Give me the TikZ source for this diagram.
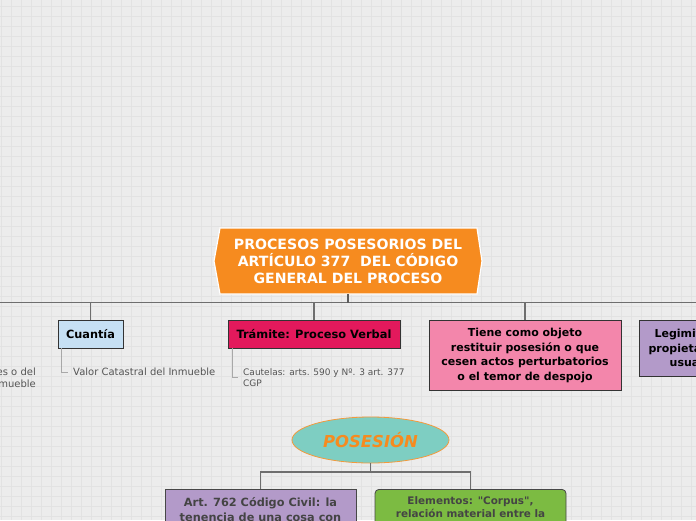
\documentclass[tikz,border=0pt]{standalone}
\usepackage{fontspec}
\setmainfont{DejaVu Sans}[Ligatures=TeXOff]
\usetikzlibrary{shapes.geometric}
\definecolor{bgc}{HTML}{ECECEC}
\definecolor{gridc}{HTML}{E2E2E2}
\definecolor{mainc}{HTML}{F68B1F}
\definecolor{cuantc}{HTML}{C6E0F4}
\definecolor{tramc}{HTML}{E3195C}
\definecolor{tienec}{HTML}{F386AB}
\definecolor{purpc}{HTML}{B39AC9}
\definecolor{posc}{HTML}{7ECEC2}
\definecolor{posline}{HTML}{F39A3C}
\definecolor{greenc}{HTML}{7CBB42}
\definecolor{connc}{HTML}{6E6E6E}
\definecolor{subc}{HTML}{A8A8A8}
\definecolor{subtxt}{HTML}{555555}
\definecolor{darktxt}{HTML}{444444}
\definecolor{borderc}{HTML}{333333}
\begin{document}
\begin{tikzpicture}[x=1pt,y=-1pt,
  conn/.style={draw=connc, line width=1.2pt},
  subconn/.style={draw=subc, line width=0.9pt},
  topicbox/.style={draw=borderc, line width=0.8pt, inner sep=0pt, align=center,
    font=\bfseries\fontsize{11}{14.5}\selectfont},
  sublabel/.style={anchor=west, inner sep=0pt, align=left, text=subtxt},
]
\clip (0,0) rectangle (696,520);
\fill[bgc] (0,0) rectangle (696,520);
\foreach \i in {0,...,70} {
  \draw[gridc, line width=0.8pt] (1.7+\i*10,0) -- (1.7+\i*10,520);
}
\foreach \j in {0,...,52} {
  \draw[gridc, line width=0.8pt] (0,6.7+\j*10) -- (696,6.7+\j*10);
}

% main topic
\fill[mainc, draw=white, line width=1.2pt] (214,261) -- (220,228) -- (477,228) -- (482,261) -- (477,294) -- (220,294) -- cycle;
\node[inner sep=0pt, minimum width=262pt, minimum height=66pt, align=center, text=white,
  font=\bfseries\fontsize{14.1}{17}\selectfont] (main) at (348,261)
  {PROCESOS POSESORIOS DEL\\ARTÍCULO 377~ DEL CÓDIGO\\GENERAL DEL PROCESO};

% children
\node[topicbox, fill=cuantc, minimum width=65pt, minimum height=28pt, font=\bfseries\fontsize{11.3}{14.5}\selectfont] (cuant) at (90.5,334) {Cuantía};
\node[topicbox, fill=tramc, minimum width=172pt, minimum height=28pt, font=\bfseries\fontsize{11.4}{14.5}\selectfont] (tram) at (314,334) {Trámite: Proceso Verbal};
\node[topicbox, fill=tienec, minimum width=192pt, minimum height=70pt] (tiene) at (525,355.5)
  {Tiene como objeto\\restituir posesión o que\\cesen actos perturbatorios\\o el temor de despojo};
\node[topicbox, fill=purpc, minimum width=192pt, minimum height=56pt] (legi) at (735,348)
  {Legimitados: el poseedor,\\propietario, usufructuario o\\usuario del inmueble};

\coordinate (hl) at (0,302.5);
\coordinate (hr) at (696,302.5);
\draw[conn] (hl) -- (hr);
\draw[conn, draw=borderc!80] (main.south) -- (main.south |- hl);
\draw[conn] (cuant.north) -- (cuant.north |- hl);
\draw[conn] (tram.north) -- (tram.north |- hl);
\draw[conn] (tiene.north) -- (tiene.north |- hl);

% sub labels
\node[sublabel, font=\fontsize{10}{12}\selectfont] (valor) at (73,372) {Valor Catastral del Inmueble};
\draw[subconn] ([xshift=4pt]cuant.south west) |- ([xshift=-5pt]valor.west);
\node[sublabel, font=\fontsize{9}{11}\selectfont] (caut) at (243,377.5) {Cautelas: arts. 590 y Nº. 3 art. 377\\CGP};
\draw[subconn] ([xshift=5pt]tram.south west) |- ([xshift=-5pt]caut.west);
\node[inner sep=0pt, anchor=east, align=right, text=subtxt, font=\fontsize{10}{12}\selectfont] (left) at (36,378) {es o del\\mueble};

% posesion
\node[ellipse, fill=posc, draw=posline, line width=0.8pt, minimum width=157pt, minimum height=46pt, inner sep=0pt,
  text=mainc, font=\bfseries\itshape\fontsize{16.4}{18}\selectfont] (pos) at (370.5,440) {POSESIÓN};
\node[draw=borderc!90, line width=0.8pt, fill=purpc, minimum width=191pt, minimum height=80pt, anchor=north, inner sep=0pt] (art) at (260.5,489) {};
\node[draw=borderc!90, line width=0.8pt, fill=greenc, rounded corners=4pt, minimum width=191pt, minimum height=80pt, anchor=north, inner sep=0pt] (elem) at (470.5,489) {};
\node[anchor=north, inner sep=0pt, align=center, text=darktxt, font=\bfseries\fontsize{11.3}{15}\selectfont] (arttxt) at (260.5,497)
  {Art. 762 Código Civil: la\\tenencia de una cosa con};
\node[anchor=north, inner sep=0pt, align=center, text=darktxt, font=\bfseries\fontsize{10.4}{13}\selectfont] (elemtxt) at (470.5,496.5)
  {Elementos: "Corpus",\\relación material entre la};
\coordinate (pj) at (370.5,472);
\draw[conn] (pos.south) -- (pj);
\draw[conn] (art.north) -- (art.north |- pj) -- (elem.north |- pj) -- (elem.north);
\end{tikzpicture}
\end{document}
